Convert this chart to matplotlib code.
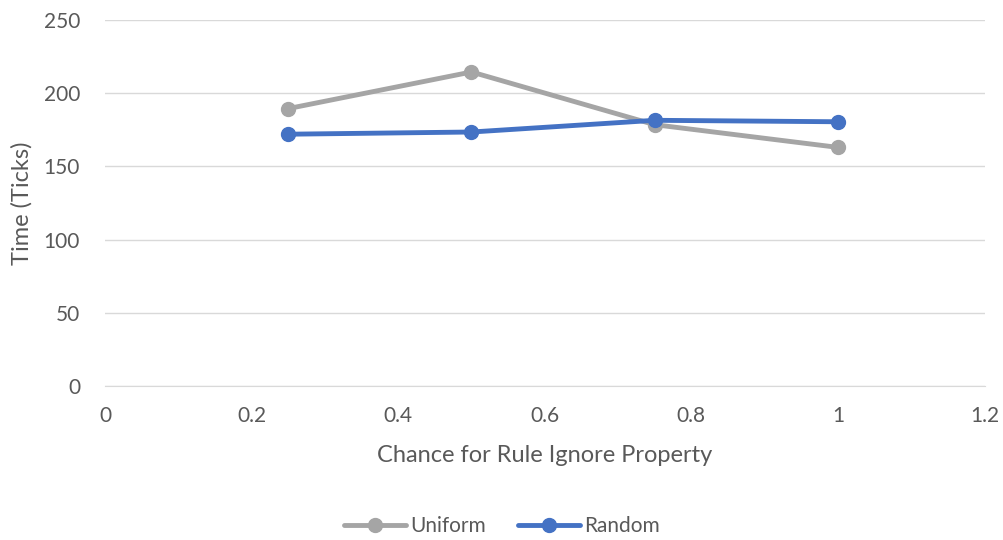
import matplotlib.pyplot as plt

chance = [0.25, 0.5, 0.75, 1.0]
uniform = [189.5, 214.5, 178.5, 163.0]
random_ = [172.0, 173.5, 181.5, 180.5]

xticks = [0, 0.2, 0.4, 0.6, 0.8, 1, 1.2]
xticklabels = ['0', '0.2', '0.4', '0.6', '0.8', '1', '1.2']
yticks = [0, 50, 100, 150, 200, 250]

plt.rcParams['font.family'] = ['Lato', 'DejaVu Sans']
txt = '#595959'

fig = plt.figure(figsize=(10.04, 5.4), dpi=100)
ax = fig.add_axes([0.1046, 0.285, 0.876, 0.678])

ax.plot(chance, uniform, color='#A5A5A5', lw=3.5, marker='o', ms=10, label='Uniform', solid_capstyle='round')
ax.plot(chance, random_, color='#4472C4', lw=3.5, marker='o', ms=10, label='Random', solid_capstyle='round')

ax.set_xlim(0, 1.2)
ax.set_ylim(0, 250)
ax.set_xticks(xticks)
ax.set_xticklabels(xticklabels)
ax.set_yticks(yticks)
ax.grid(axis='y', color='#D9D9D9', lw=1)
ax.set_axisbelow(True)
for s in ['top', 'right', 'left']:
    ax.spines[s].set_visible(False)
ax.spines['bottom'].set_color('#D9D9D9')
ax.tick_params(length=0, labelsize=15, colors=txt)
ax.tick_params(axis='x', pad=14)
ax.tick_params(axis='y', pad=18)

ax.set_xlabel('Chance for Rule Ignore Property', fontsize=17, color=txt, labelpad=14)
ax.set_ylabel('Time (Ticks)', fontsize=17, color=txt, labelpad=8)

fig.legend(loc='center', bbox_to_anchor=(0.5, 0.025), ncol=2, frameon=False,
           fontsize=15, labelcolor=txt, handlelength=3, columnspacing=1.5, handletextpad=0.2)

fig.savefig('out.png', dpi=100)
